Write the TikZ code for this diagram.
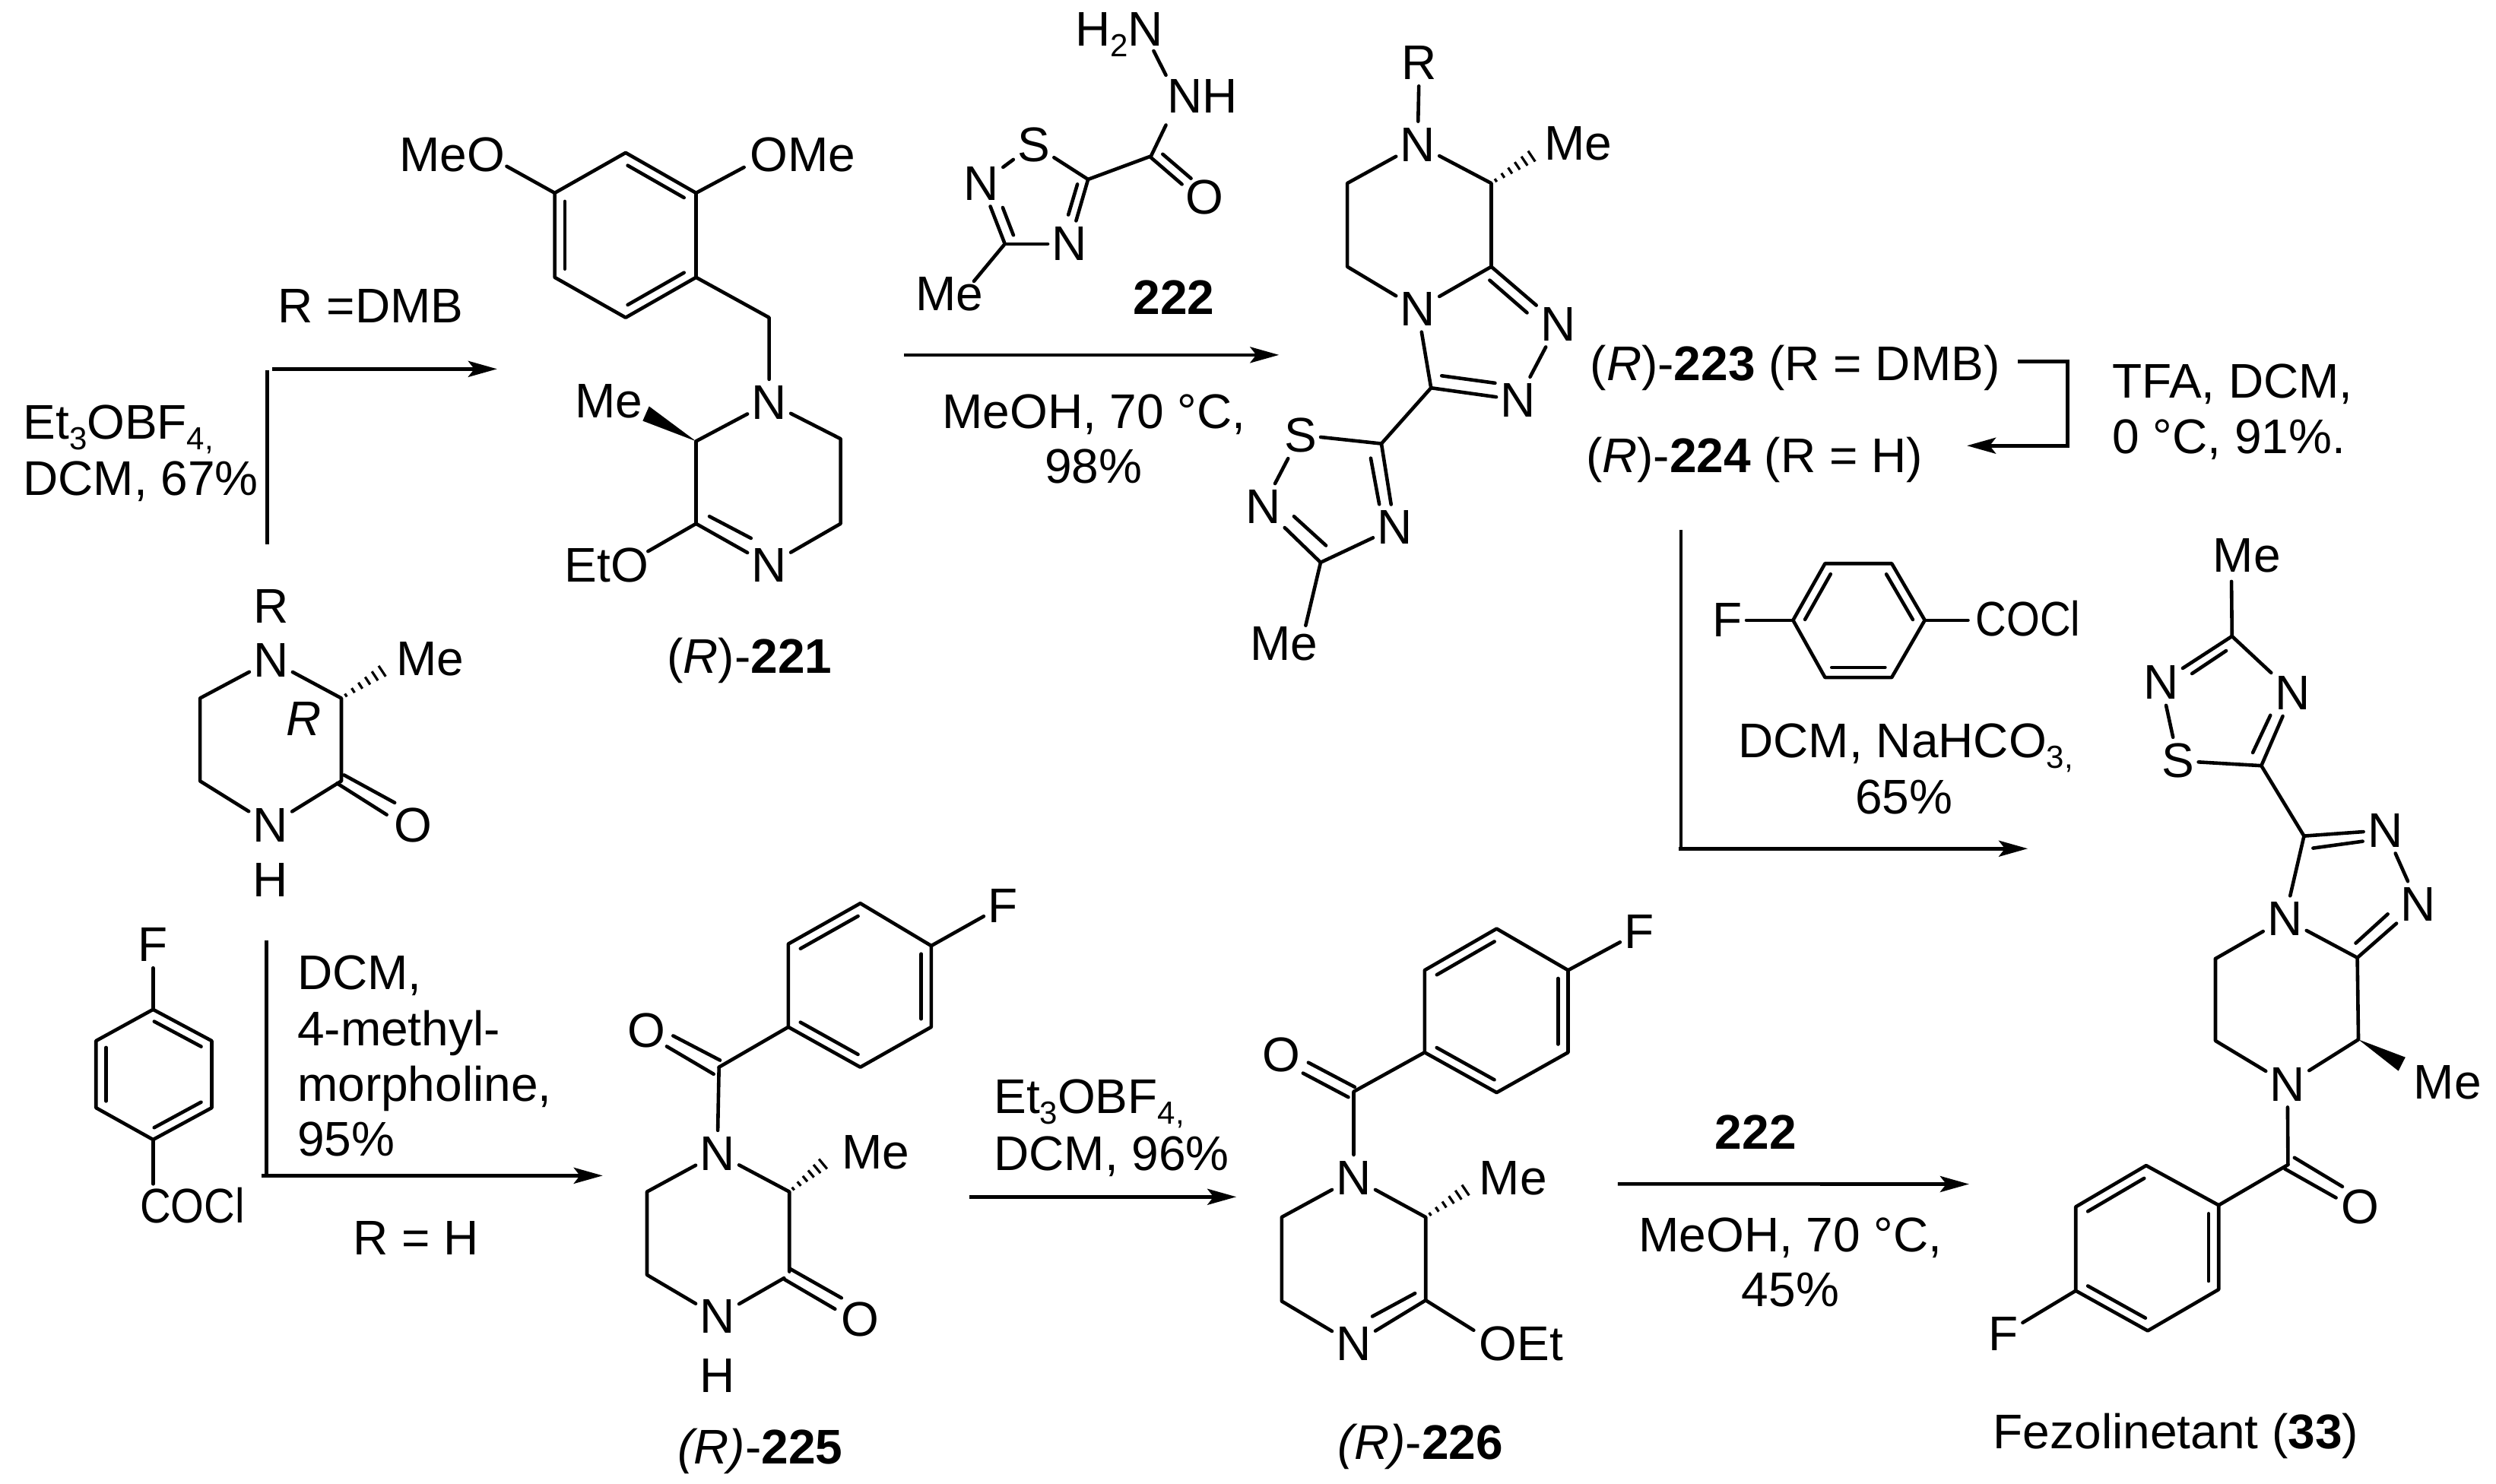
\documentclass[tikz,border=0pt]{standalone}
\usepackage{fontspec}
\usepackage{graphicx}
\setmainfont{Liberation Sans}
\usetikzlibrary{calc,arrows.meta}
\newcommand{\chemfont}{\fontsize{32}{32}\selectfont}
\newcommand{\chemsub}[1]{\raisebox{-0.22em}{\fontsize{21}{21}\selectfont #1}}
\newcommand{\inb}[2]{\draw[bond] ($(#1)!.1!(#2)!6.6pt!-90:(#2)$) -- ($(#2)!.1!(#1)!6.6pt!90:(#1)$);}
\newcommand{\hashb}[2]{\foreach \t/\w in {.1/1.2,.26/1.8,.42/2.4,.58/3,.74/3.6,.9/4.2}{\draw[hashline] ($(#1)!\t!(#2)!\w pt!90:(#2)$) -- ($(#1)!\t!(#2)!\w pt!-90:(#2)$);}}
\tikzset{
  every node/.style={font=\chemfont,inner sep=0pt,text=black},
  bond/.style={line width=2.3pt,line cap=round,line join=round,black},
  hashline/.style={line width=1.6pt,black},
  rxnline/.style={line width=2.3pt,black},
  rxnarrow/.style={line width=2.3pt,black,-{Stealth[length=19pt,width=10.5pt,inset=4pt]}},
  atom/.style={inner xsep=2.5pt,inner ysep=4pt},
  txt/.style={anchor=base west},
  ctr/.style={anchor=base},
  tA/.style={x=0.35077pt,y=-0.3189pt},
  tB/.style={shift={(550pt,0pt)},x=0.35077pt,y=-0.3189pt},
  tC/.style={shift={(1091.5pt,-200pt)},x=0.35077pt,y=-0.3189pt},
  tD/.style={shift={(0pt,-500pt)},x=0.35077pt,y=-0.30355pt},
  tE/.style={shift={(550pt,-500pt)},x=0.35077pt,y=-0.30355pt},
  tF/.style={shift={(1091.5pt,-550pt)},x=0.35077pt,y=-0.2717pt},
}
\begin{document}
\begin{tikzpicture}
\fill[white] (0pt,0pt) rectangle (1641.5pt,-976pt);
\useasboundingbox (0pt,0pt) rectangle (1641.5pt,-976pt);

% ---------- tile A
\begin{scope}[tA]
\node[ctr] (tRDMB) at (695,665) {R =DMB};
\node[txt] (tEt) at (43,905) {Et\chemsub{3}OBF\chemsub{4,}};
\node[txt] (tDCMa) at (43,1022) {DCM, 67\%};
\coordinate (a1s) at (501,1122); \coordinate (a1t) at (501,763);
\coordinate (a1b) at (511,761); \coordinate (a1e) at (932,761);
\draw[rxnline] (a1s)--(a1t);
\draw[rxnarrow] (a1b)--(a1e);
% DMB ring
\coordinate (d1) at (1173,315); \coordinate (d2) at (1305,398); \coordinate (d3) at (1305,572);
\coordinate (d4) at (1173,655); \coordinate (d5) at (1040,572); \coordinate (d6) at (1040,398);
\draw[bond] (d1)--(d2)--(d3)--(d4)--(d5)--(d6)--cycle;
\inb{d1}{d2}\inb{d3}{d4}\inb{d5}{d6}
\node[txt] (lMeO) at (748,353) {MeO};
\node[txt] (lOMe) at (1406,353) {OMe};
\coordinate (mo) at (950,343); \coordinate (om) at (1395,345);
\draw[bond] (mo)--(d6); \draw[bond] (d2)--(om);
% 221 ring
\coordinate (ch2) at (1442,655);
\node[atom] (n1) at (1442,830) {N};
\node[atom] (n2) at (1442,1165) {N};
\coordinate (r1) at (1305,910); \coordinate (r2) at (1305,1080);
\coordinate (r3) at (1576,905); \coordinate (r4) at (1576,1080);
\draw[bond] (d3)--(ch2)--(n1);
\draw[bond] (n1)--(r1)--(r2);
\draw[bond] (n1)--(r3)--(r4)--(n2);
\draw[bond] (r2)--(n2);
\draw[bond] (1330,1065)--(1408,1110);
\fill (r1)--(1217,838)--(1205,868)--cycle;
\node[txt] (lMe1) at (1078,862) {Me};
\node[txt] (lEtO) at (1058,1200) {EtO};
\coordinate (eo) at (1215,1137);
\draw[bond] (r2)--(eo);
\node[txt] (l221) at (1250,1388) {(\textit{R})-\textbf{221}};
% piperazinone top
\node[atom] (pR) at (508,1250) {R};
\node[atom] (pN) at (508,1362) {N};
\coordinate (p1) at (640,1440);
\coordinate (p5) at (375,1440);
\coordinate (pm) at (725,1378);
\hashb{p1}{pm}
\node[txt] (lMe2) at (743,1393) {Me};
\node (lRi) at (570,1483) {\textit{R}};
\end{scope}

% ---------- tile D
\begin{scope}[tD]
\coordinate (p2) at (640,45); \coordinate (p4) at (375,45);
\node[atom] (pN2) at (507,140) {N};
\node[atom] (pH) at (507,260) {H};
\node[atom] (pO) at (775,140) {O};
\draw[bond] (pN)--(p1)--(p2)--(pN2)--(p4)--(p5)--(pN);
\draw[bond] (645,32)--(740,92);
\draw[bond] (632,50)--(725,118);
% F-benzene
\node[atom] (eF) at (287,400) {F};
\coordinate (e1) at (287,540); \coordinate (e2) at (397,608); \coordinate (e3) at (397,753);
\coordinate (e4) at (287,822); \coordinate (e5) at (180,753); \coordinate (e6) at (180,608);
\draw[bond] (e1)--(e2)--(e3)--(e4)--(e5)--(e6)--cycle;
\inb{e1}{e2}\inb{e3}{e4}\inb{e5}{e6}
\draw[bond] (eF)--(e1);
\node[txt] (lCOCl1) at (262,1003) {\scalebox{.88}[1]{COCl}};
\coordinate (ec) at (287,918);
\draw[bond] (e4)--(ec);
% arrow
\coordinate (a2s) at (500,390); \coordinate (a2c) at (500,900);
\coordinate (a2b) at (490,900); \coordinate (a2e) at (1130,900);
\draw[rxnline] (a2s)--(a2c);
\draw[rxnarrow] (a2b)--(a2e);
\node[txt] (tDCMb) at (557,497) {DCM,};
\node[txt] (tMM) at (557,618) {4-methyl-};
\node[txt] (tMor) at (557,738) {morpholine,};
\node[txt] (t95) at (557,858) {95\%};
\node[ctr] (tRH) at (780,1072) {R = H};
% 225
\node[atom] (q0) at (1212,585) {O};
\coordinate (qc) at (1348,665);
\node[atom] (qN) at (1345,852) {N};
\coordinate (q1) at (1480,935); \coordinate (q2) at (1480,1108);
\node[atom] (qN2) at (1345,1205) {N};
\node[atom] (qH) at (1345,1333) {H};
\coordinate (q4) at (1213,1115); \coordinate (q5) at (1213,935);
\draw[bond] (qc)--(qN);
\draw[bond] (qN)--(q1)--(q2);
\draw[bond] (1470,1122)--(qN2)--(q4)--(q5)--(qN);
\draw[bond] (1262,597)--(1350,650);
\draw[bond] (1250,620)--(1338,680);
\coordinate (f1) at (1478,578); \coordinate (f2) at (1478,398);
\draw[bond] (qc)--(f1);
\node[txt] (l225) at (1270,1525) {\textit{(R)}-\textbf{225}};
\end{scope}

% ---------- tile E
\begin{scope}[tE]
\coordinate (f3) at (45,310); \coordinate (f4) at (178,402);
\coordinate (f5) at (178,578); \coordinate (f6) at (45,665);
\draw[bond] (f1)--(f2)--(f3)--(f4)--(f5)--(f6)--cycle;
\inb{f2}{f3}\inb{f4}{f5}\inb{f6}{f1}
\node[atom] (fF) at (312,315) {F};
\draw[bond] (f4)--(fF);
\node[txt] (lMe3) at (10,885) {Me};
\coordinate (qm) at (-18,868);
\hashb{q1}{qm}
\node[atom] (qO) at (45,1211) {O};
\draw[bond] (-88,1101)--(9.6,1165);
\draw[bond] (-97,1125)--(-2.4,1189);
% arrow
\node[txt] (tEtb) at (295,765) {Et\chemsub{3}OBF\chemsub{4,}};
\node[txt] (tDCMc) at (295,888) {DCM, 96\%};
\coordinate (a3s) at (250,946); \coordinate (a3e) at (750,946);
\draw[rxnarrow] (a3s)--(a3e);
% 226
\coordinate (g1) at (1238,365); \coordinate (g2) at (1372,455); \coordinate (g3) at (1372,633);
\coordinate (g4) at (1238,720); \coordinate (g5) at (1103,633); \coordinate (g6) at (1103,455);
\draw[bond] (g1)--(g2)--(g3)--(g4)--(g5)--(g6)--cycle;
\inb{g2}{g3}\inb{g4}{g5}\inb{g6}{g1}
\node[atom] (gF) at (1505,372) {F};
\draw[bond] (g2)--(gF);
\node[atom] (gO) at (835,638) {O};
\coordinate (gc) at (970,718);
\node[atom] (gN) at (970,905) {N};
\coordinate (s1) at (1105,990); \coordinate (s2) at (1105,1170);
\node[atom] (gN2) at (970,1265) {N};
\coordinate (s4) at (835,1172); \coordinate (s5) at (835,990);
\draw[bond] (g5)--(gc)--(gN);
\draw[bond] (885,655)--(972,708);
\draw[bond] (875,678)--(960,730);
\draw[bond] (gN)--(s1)--(s2)--(gN2)--(s4)--(s5)--(gN);
\draw[bond] (1085,1155)--(1005,1205);
\node[txt] (lOEt) at (1205,1300) {OEt};
\coordinate (oe) at (1195,1235);
\draw[bond] (s2)--(oe);
\node[txt] (lMe4) at (1205,942) {Me};
\coordinate (sm) at (1188,925);
\hashb{s1}{sm}
\node[txt] (l226) at (940,1515) {\textit{(R)}-\textbf{226}};
\coordinate (a4s) at (1465,918);
\end{scope}

% ---------- tile B
\begin{scope}[tB]
\node[txt] (lH2N) at (447,95) {H\chemsub{2}N};
\node[txt] (lNH) at (620,233) {NH};
\coordinate (hb1) at (595,105); \coordinate (hb2) at (618,155); \coordinate (hb3) at (618,258);
\draw[bond] (hb1)--(hb2);
\coordinate (bc) at (590,322); \coordinate (bc5) at (472,370); \coordinate (bc3) at (316,503);
\node[atom] (bO) at (690,407) {O};
\node[atom] (bS) at (370,298) {S};
\node[atom] (bN1) at (272,378) {N};
\node[atom] (bN2) at (437,503) {N};
\draw[bond] (hb3)--(bc)--(bc5);
\draw[bond] (590,325)--(648,380);
\draw[bond] (612,318)--(665,368);
\draw[bond] (bS)--(bc5);
\draw[bond] (bS)--(bN1);
\draw[bond] (bN1)--(bc3);
\draw[bond] (312,428)--(332,485);
\draw[bond] (bc3)--(bN2);
\draw[bond] (bN2)--(bc5);
\draw[bond] (452,380)--(435,443);
\coordinate (bm) at (258,580);
\draw[bond] (bc3)--(bm);
\node[txt] (lMe5) at (148,640) {Me};
\node[ctr,font=\chemfont\bfseries] (l222) at (633,648) {222};
\coordinate (a5s) at (127,732); \coordinate (a5e) at (830,732);
\draw[rxnarrow] (a5s)--(a5e);
\node[txt] (tMeOH) at (198,883) {MeOH, 70 °C,};
\node[ctr] (t98) at (482,997) {98\%};
% 223
\node[atom] (cR) at (1093,130) {R};
\node[atom] (cN) at (1090,298) {N};
\coordinate (c1) at (1228,378); \coordinate (c2) at (1228,550);
\node[atom] (cN2) at (1090,637) {N};
\coordinate (c4) at (958,550); \coordinate (c5) at (958,378);
\draw[bond] (cR)--(cN);
\draw[bond] (cN)--(c1)--(c2)--(cN2)--(c4)--(c5)--(cN);
\coordinate (cm) at (1312,316);
\hashb{c1}{cm}
\node[txt] (lMe6) at (1327,330) {Me};
\node[atom] (tN1) at (1353,668) {N};
\node[atom] (tN2) at (1278,825) {N};
\coordinate (tc) at (1115,800);
\draw[bond] (c2)--(tN1);
\draw[bond] (1225,578)--(1295,645);
\draw[bond] (tN1)--(tN2);
\draw[bond] (tN2)--(tc);
\draw[bond] (1235,790)--(1135,775);
\draw[bond] (tc)--(cN2);
\coordinate (u5) at (1022,915); \coordinate (u3) at (908,1160);
\node[atom] (uS) at (870,897) {S};
\node[atom] (uN1) at (800,1045) {N};
\node[atom] (uN2) at (1047,1088) {N};
\draw[bond] (tc)--(u5);
\draw[bond] (u5)--(uS);
\draw[bond] (uS)--(uN1);
\draw[bond] (uN1)--(u3);
\draw[bond] (858,1065)--(918,1125);
\draw[bond] (u3)--(uN2);
\draw[bond] (u5)--(uN2);
\draw[bond] (1002,945)--(1018,1040);
\coordinate (um) at (880,1290);
\draw[bond] (u3)--(um);
\node[txt] (lMe7) at (775,1362) {Me};
\node[txt] (l223) at (1413,785) {(\textit{R})-\textbf{223} (R = DMB)};
\node[txt] (l224) at (1405,975) {(\textit{R})-\textbf{224} (R = H)};
\end{scope}

% ---------- tile C
\begin{scope}[tC]
\coordinate (b1) at (672,118); \coordinate (b2) at (765,118); \coordinate (b3) at (765,292); \coordinate (b4) at (576,292);
\draw[rxnarrow,line join=miter] (b1)--(b2)--(b3)--(b4);
\node[txt] (tTFA) at (848,193) {TFA, DCM,};
\node[txt] (t0C) at (848,308) {0 °C, 91\%.};
\coordinate (v1) at (40,465); \coordinate (v2) at (40,1123);
\coordinate (v3) at (35,1123); \coordinate (v4) at (690,1123);
\draw[rxnline] (v1)--(v2);
\draw[rxnarrow] (v3)--(v4);
\coordinate (h1) at (250,652); \coordinate (h2) at (310,535); \coordinate (h3) at (435,535);
\coordinate (h4) at (497,652); \coordinate (h5) at (435,770); \coordinate (h6) at (310,770);
\draw[bond] (h1)--(h2)--(h3)--(h4)--(h5)--(h6)--cycle;
\inb{h1}{h2}\inb{h3}{h4}\inb{h5}{h6}
\node[atom] (hF) at (127,652) {F};
\draw[bond] (hF)--(h1);
\node[txt] (lCOCl2) at (592,685) {\scalebox{.88}[1]{COCl}};
\coordinate (hc) at (578,652);
\draw[bond] (h4)--(hc);
\node[txt] (tDCMd) at (147,935) {DCM, NaHCO\chemsub{3,}};
\node[ctr] (t65) at (458,1052) {65\%};
% fezolinetant upper
\node[txt] (lMe8) at (1037,552) {Me};
\coordinate (zm) at (1072,572); \coordinate (z3) at (1073,685); \coordinate (z5) at (1128,952);
\node[atom] (zN1) at (940,780) {N};
\node[atom] (zN2) at (1187,802) {N};
\node[atom] (zS) at (972,942) {S};
\draw[bond] (zm)--(z3);
\draw[bond] (z3)--(zN1);
\draw[bond] (1062,715)--(998,762);
\draw[bond] (z3)--(zN2);
\draw[bond] (zN2)--(z5);
\draw[bond] (1112,925)--(1145,848);
\draw[bond] (zN1)--(zS);
\draw[bond] (zS)--(z5);
\coordinate (yc) at (1208,1097); \coordinate (y9) at (1308,1348);
\node[atom] (yN1) at (1360,1085) {N};
\node[atom] (yN2) at (1422,1238) {N};
\node[atom] (yN3) at (1172,1268) {N};
\draw[bond] (z5)--(yc);
\draw[bond] (yc)--(yN1);
\draw[bond] (1225,1122)--(1318,1108);
\draw[bond] (yN1)--(yN2);
\draw[bond] (y9)--(yN2);
\draw[bond] (1305,1318)--(1365,1258);
\draw[bond] (yc)--(yN3);
\draw[bond] (yN3)--(y9);
\coordinate (y5) at (1042,1350);
\draw[bond] (yN3)--(y5);
\end{scope}

% ---------- tile F
\begin{scope}[tF]
\coordinate (y6) at (1042,495); \coordinate (y8) at (1310,492);
\node[atom] (yN4) at (1177,600) {N};
\draw[bond] (y5)--(y6)--(yN4)--(y8)--(y9);
\fill (y8)--(1398,535)--(1385,568)--cycle;
\node[txt] (lMe9) at (1413,635) {Me};
\coordinate (kc) at (1178,795);
\node[atom] (kO) at (1313,897) {O};
\draw[bond] (yN4)--(kc);
\draw[bond] (1190,778)--(1280,848);
\draw[bond] (1172,805)--(1268,875);
\coordinate (k1) at (1048,893); \coordinate (k2) at (1048,1097); \coordinate (k3) at (915,1197);
\coordinate (k4) at (780,1100); \coordinate (k5) at (780,897); \coordinate (k6) at (912,797);
\draw[bond] (kc)--(k1);
\draw[bond] (k1)--(k2)--(k3)--(k4)--(k5)--(k6)--cycle;
\inb{k1}{k2}\inb{k3}{k4}\inb{k5}{k6}
\node[atom] (kF) at (645,1205) {F};
\draw[bond] (k4)--(kF);
\node[txt] (lFez) at (625,1483) {Fezolinetant (\textbf{33})};
\coordinate (a4e) at (580,842);
\draw[rxnarrow] (a4s)--(a4e);
\node[ctr,font=\chemfont\bfseries] (l222b) at (180,757) {222};
\node[ctr] (tMeOHb) at (245,1005) {MeOH, 70 °C,};
\node[ctr] (t45) at (245,1138) {45\%};
\end{scope}
\end{tikzpicture}
\end{document}
